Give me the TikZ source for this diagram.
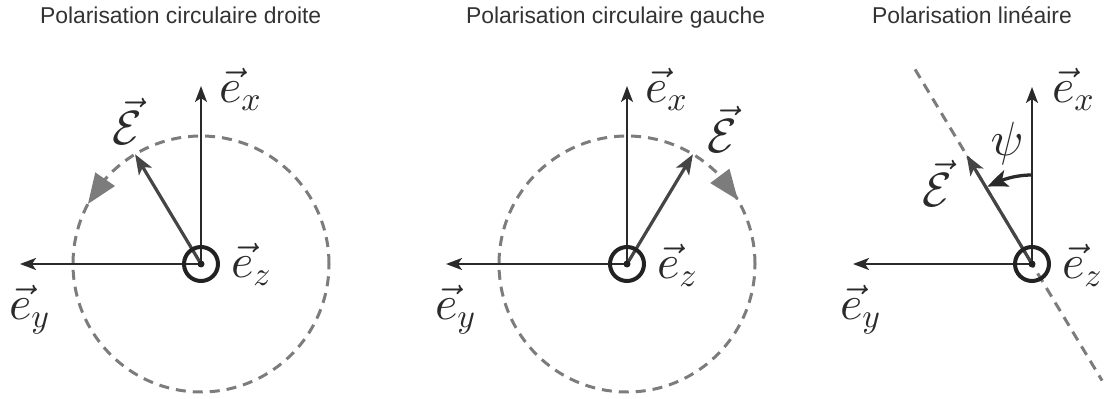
\RequirePackage{fix-cm}
\documentclass[tikz,border=0pt]{standalone}
\usepackage{fontspec}
\newfontfamily\titlefont{Liberation Sans}
\DeclareFontShape{OML}{cmm}{m}{it}{<->cmmi10}{}
\DeclareFontShape{OMS}{cmsy}{m}{n}{<->cmsy10}{}
\usetikzlibrary{arrows.meta,calc,bending}
\definecolor{axisc}{HTML}{2A2A2A}
\definecolor{vecc}{HTML}{454545}
\definecolor{dashc}{HTML}{7C7C7C}
\definecolor{ringc}{HTML}{222222}
\definecolor{titlec}{HTML}{333333}
\begin{document}
\begin{tikzpicture}[x=1pt,y=1pt,
  axis/.style={draw=axisc, line width=2pt, -{Stealth[length=16pt,width=12pt,inset=4pt]}},
  evec/.style={draw=vecc, line width=3.2pt, -{Stealth[length=20pt,width=15pt,inset=5pt]}},
  dashcirc/.style={draw=dashc, line width=3pt, dash pattern=on 10pt off 7pt},
  circarrow/.style={fill=dashc},
  ring/.style={draw=ringc, line width=4pt},
  dot/.style={fill=ringc},
  lab/.style={inner sep=0pt, outer sep=0pt, text=axisc, font=\fontsize{48}{50}\selectfont, anchor=base west},
  ttl/.style={inner sep=0pt, outer sep=0pt, text=titlec, font=\titlefont\fontsize{22.9}{26}\selectfont, anchor=base west},
  anglearc/.style={draw=axisc, line width=3.3pt, -{Stealth[length=21pt,width=17pt,inset=5pt,bend]}}
]
\useasboundingbox (0,0) rectangle (1109,399);

% titles
\node[ttl] (t1) at (40,375) {Polarisation circulaire droite};
\node[ttl] (t2) at (466,375) {Polarisation circulaire gauche};
\node[ttl] (t3) at (872,375) {Polarisation linéaire};

% ---------- panel 1 ----------
\begin{scope}[shift={(201,135)}]
  \coordinate (o1) at (0,0);
  \coordinate (x1) at (0,178);
  \coordinate (y1) at (-181,0);
  \coordinate (e1) at (121:128);
  \coordinate (ta1) at (152:128);
  \coordinate (ba1) at (138.5:128);
  \draw[dashcirc] (o1) circle[radius=128];
  \fill[circarrow] (ta1) -- ($(ba1)!12pt!90:(ta1)$) -- ($(ba1)!12pt!-90:(ta1)$) -- cycle;
  \draw[axis] (o1) -- (x1);
  \draw[axis] (o1) -- (y1);
  \draw[evec] (o1) -- (e1);
  \draw[ring] (o1) circle[radius=17];
  \fill[dot] (o1) circle[radius=3.5];
  \node[lab] (lx1) at (18,161) {$\vec{e}_x$};
  \node[lab] (lz1) at (30,-14) {$\vec{e}_z$};
  \node[lab] (ly1) at (-192,-56) {$\vec{e}_y$};
  \node[lab] (lE1) at (-89,119) {$\vec{\mathcal{E}}$};
\end{scope}

% ---------- panel 2 ----------
\begin{scope}[shift={(627,135)}]
  \coordinate (o2) at (0,0);
  \coordinate (x2) at (0,178);
  \coordinate (y2) at (-181,0);
  \coordinate (e2) at (59:128);
  \coordinate (ta2) at (30:128);
  \coordinate (ba2) at (43.5:128);
  \draw[dashcirc] (o2) circle[radius=128];
  \fill[circarrow] (ta2) -- ($(ba2)!12pt!90:(ta2)$) -- ($(ba2)!12pt!-90:(ta2)$) -- cycle;
  \draw[axis] (o2) -- (x2);
  \draw[axis] (o2) -- (y2);
  \draw[evec] (o2) -- (e2);
  \draw[ring] (o2) circle[radius=17];
  \fill[dot] (o2) circle[radius=3.5];
  \node[lab] (lx2) at (18,161) {$\vec{e}_x$};
  \node[lab] (lz2) at (30,-15) {$\vec{e}_z$};
  \node[lab] (ly2) at (-192,-56) {$\vec{e}_y$};
  \node[lab] (lE2) at (80,111) {$\vec{\mathcal{E}}$};
\end{scope}

% ---------- panel 3 ----------
\begin{scope}[shift={(1032,135)}]
  \coordinate (o3) at (0,0);
  \coordinate (x3) at (0,177);
  \coordinate (y3) at (-179,0);
  \coordinate (e3) at (121:127);
  \coordinate (d3a) at (121:227);
  \coordinate (d3b) at (-59:136);
  \coordinate (a3s) at (90:89);
  \draw[dashcirc] (d3a) -- (d3b);
  \draw[axis] (o3) -- (x3);
  \draw[axis] (o3) -- (y3);
  \draw[evec] (o3) -- (e3);
  \draw[anglearc] (a3s) arc[start angle=90, end angle=120, radius=89];
  \draw[ring] (o3) circle[radius=17];
  \fill[dot] (o3) circle[radius=3.5];
  \node[lab] (lx3) at (20,161) {$\vec{e}_x$};
  \node[lab] (lz3) at (30,-15) {$\vec{e}_z$};
  \node[lab] (ly3) at (-192,-56) {$\vec{e}_y$};
  \node[lab] (lE3) at (-110,57) {$\vec{\mathcal{E}}$};
  \node[lab, anchor=center] (psi3) at (-25,120) {$\psi$};
\end{scope}
\end{tikzpicture}
\end{document}
